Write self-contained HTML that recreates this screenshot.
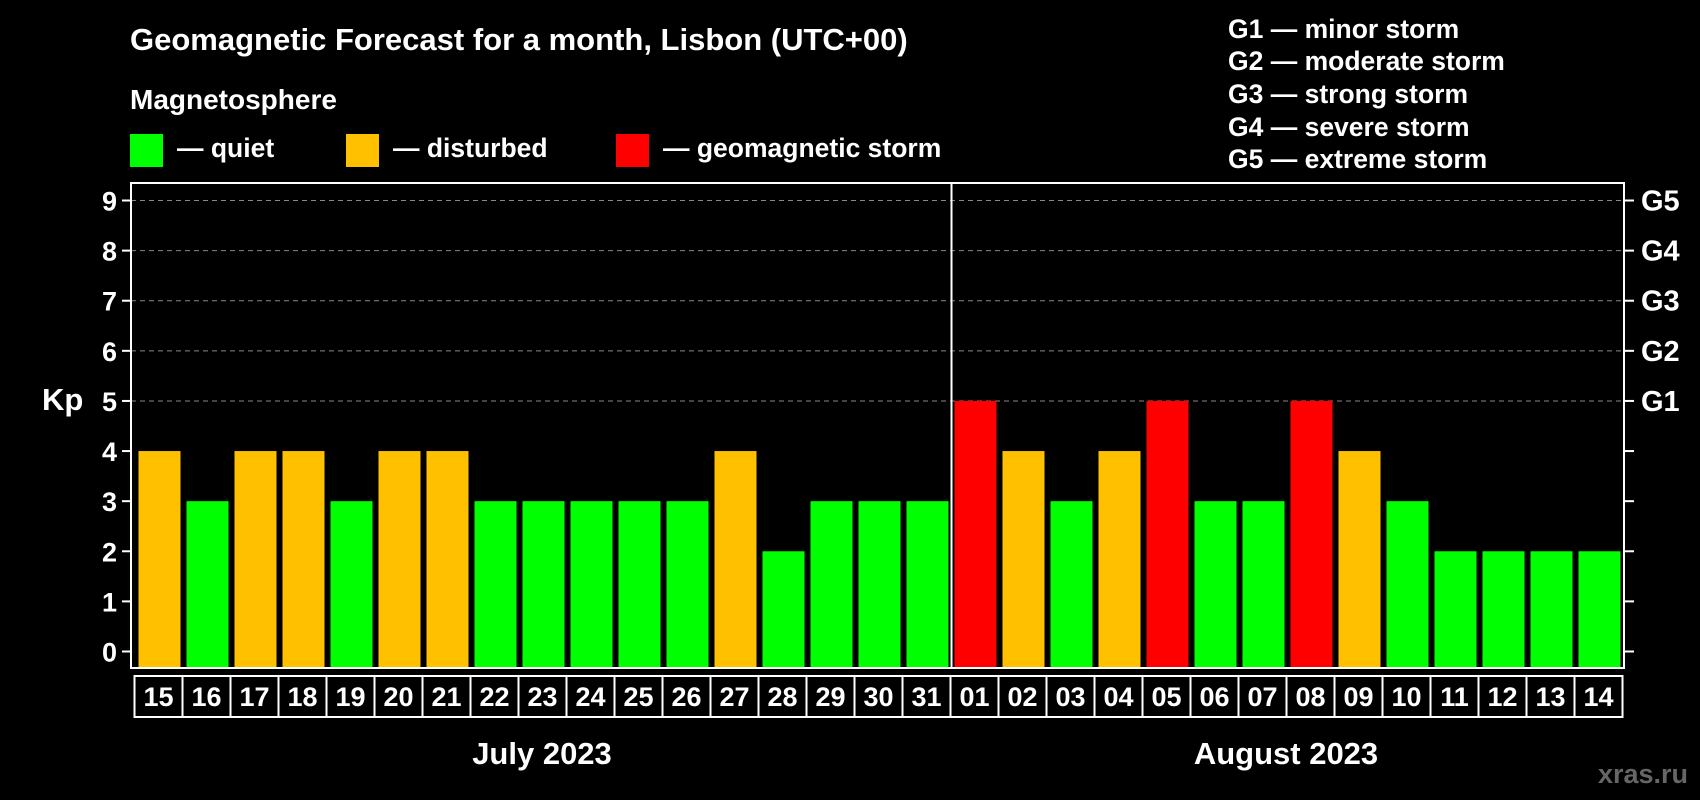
<!DOCTYPE html>
<html><head><meta charset="utf-8"><style>
html,body{margin:0;padding:0;background:#000;}
svg{display:block;font-family:"Liberation Sans",Arial,sans-serif;font-weight:bold;}
</style></head><body>
<svg width="1700" height="800" viewBox="0 0 1700 800">
<rect x="0" y="0" width="1700" height="800" fill="#000"/>
<text x="130" y="50" fill="#fff" font-size="31">Geomagnetic Forecast for a month, Lisbon (UTC+00)</text>
<text x="130" y="109" fill="#fff" font-size="28">Magnetosphere</text>
<g><rect x="130" y="134" width="33" height="33" fill="#00ff00"/><text x="177" y="157" fill="#fff" font-size="26.5">— quiet</text></g>
<g><rect x="346" y="134" width="33" height="33" fill="#ffc000"/><text x="393" y="157" fill="#fff" font-size="26.5">— disturbed</text></g>
<g><rect x="616" y="134" width="33" height="33" fill="#ff0000"/><text x="663" y="157" fill="#fff" font-size="26.5">— geomagnetic storm</text></g>
<g fill="#fff" font-size="26.5">
<text x="1228" y="38">G1 — minor storm</text>
<text x="1228" y="70">G2 — moderate storm</text>
<text x="1228" y="103">G3 — strong storm</text>
<text x="1228" y="136">G4 — severe storm</text>
<text x="1228" y="168">G5 — extreme storm</text>
</g>
<text x="42" y="410" fill="#fff" font-size="31">Kp</text>
<g id="grid"></g>
<g id="bars"></g>
<g id="axes"></g>
<text x="542" y="764" fill="#fff" font-size="31" text-anchor="middle">July 2023</text>
<text x="1286" y="764" fill="#fff" font-size="31" text-anchor="middle">August 2023</text>
<text x="1688" y="783" fill="#666" font-size="27" text-anchor="end">xras.ru</text>
</svg>
<script>
const days = ["15","16","17","18","19","20","21","22","23","24","25","26","27","28","29","30","31","01","02","03","04","05","06","07","08","09","10","11","12","13","14"];
const kp = [4,3,4,4,3,4,4,3,3,3,3,3,4,2,3,3,3,5,4,3,4,5,3,3,5,4,3,2,2,2,2];
const yTicks = [0,1,2,3,4,5,6,7,8,9];
const gLabels = ["G1","G2","G3","G4","G5"];
const NS="http://www.w3.org/2000/svg";
const X0=134.5, PITCH=48, Y0=651.5, UNIT=(651.5-200.5)/9, PL=131, PR=1624, PT=183, PB=668;
function xPos(i){return X0+i*PITCH;}
function yPos(v){return Y0-v*UNIT;}
function mk(t,a){const e=document.createElementNS(NS,t);for(const k in a)e.setAttribute(k,a[k]);return e;}
const grid=document.getElementById('grid'),bars=document.getElementById('bars'),axes=document.getElementById('axes');
yTicks.forEach(v=>{
  if(v>=5){const l=mk('line',{x1:PL,x2:PR,y1:yPos(v),y2:yPos(v),stroke:'#888','stroke-dasharray':'5,4','stroke-width':1});
  
  
  grid.appendChild(l);}
  const t1=mk('line',{x1:122,x2:PL,y1:yPos(v),y2:yPos(v),stroke:'#fff','stroke-width':2});
  
  
  axes.appendChild(t1);
  const t2=mk('line',{x1:PR,x2:1634,y1:yPos(v),y2:yPos(v),stroke:'#fff','stroke-width':2});
  
  
  axes.appendChild(t2);
  const tx=mk('text',{x:117,y:yPos(v)+10,fill:'#fff','font-size':27,'text-anchor':'end'});
  tx.textContent=v;
  
  
  axes.appendChild(tx);
});
gLabels.forEach((g,i)=>{
  const tx=mk('text',{x:1641,y:yPos(5+i)+10,fill:'#fff','font-size':29});
  tx.textContent=g;
  
  
  axes.appendChild(tx);
});
kp.forEach((v,i)=>{
  const c=v>=5?'#ff0000':(v>=4?'#ffc000':'#00ff00');
  const r=mk('rect',{x:xPos(i)+4,y:yPos(v),width:42,height:PB-yPos(v)-1,fill:c});
  
  
  bars.appendChild(r);
  const cell=mk('rect',{x:xPos(i),y:676,width:PITCH,height:41,fill:'none',stroke:'#fff','stroke-width':2});
  
  
  axes.appendChild(cell);
  const tx=mk('text',{x:xPos(i)+PITCH/2,y:706,fill:'#fff','font-size':27,'text-anchor':'middle'});
  tx.textContent=days[i];
  
  
  axes.appendChild(tx);
});
const frame=mk('rect',{x:PL,y:PT,width:PR-PL,height:PB-PT,fill:'none',stroke:'#fff','stroke-width':2});


axes.appendChild(frame);
const mi=days.indexOf("01");
const div=mk('line',{x1:xPos(mi)+1,x2:xPos(mi)+1,y1:PT,y2:PB,stroke:'#fff','stroke-width':2});


axes.appendChild(div);
</script>
</body></html>
